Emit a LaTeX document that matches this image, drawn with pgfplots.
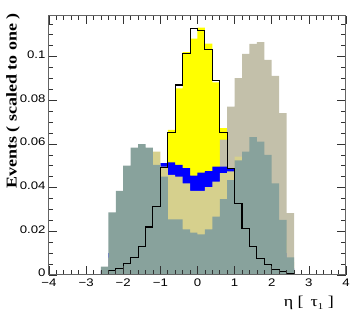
\documentclass[border=0pt]{standalone}
\usepackage{fontspec}
\setmainfont{Liberation Sans}[FakeStretch=1.2]
\newfontfamily\titlefont{Liberation Serif}[FakeStretch=1.2]
\usepackage{pgfplots}
\usepackage{pgfplotstable}
\pgfplotsset{compat=1.18}
\definecolor{cteal}{RGB}{136,162,156}
\definecolor{ckhaki}{RGB}{214,208,141}
\definecolor{ctan}{RGB}{195,192,170}
\definecolor{cyel}{RGB}{255,255,0}
\definecolor{cblue}{RGB}{0,0,255}
\definecolor{cframe}{RGB}{100,100,100}

% bin left edges, last row = right edge of last bin
\pgfplotstableread{
x y
-2.6 0
-2.4 0.0020
-2.2 0.0030
-2.0 0.0050
-1.8 0.0080
-1.6 0.0130
-1.4 0.0220
-1.2 0.0310
-1.0 0.0480
-0.8 0.0664
-0.6 0.0855
-0.4 0.1020
-0.2 0.1082
0.0 0.1133
0.2 0.1060
0.4 0.0882
0.6 0.0672
0.8 0.0480
1.0 0.0330
1.2 0.0210
1.4 0.0130
1.6 0.0075
1.8 0.0048
2.0 0.0027
2.2 0.0016
2.4 0.0007
2.6 0.0007
}\yellowdata

\pgfplotstableread{
x y
-2.6 0
-2.4 0.001
-2.2 0.002
-2.0 0.003
-1.8 0.004
-1.6 0.005
-1.4 0.006
-1.2 0.007
-1.0 0.008
-0.8 0.010
-0.6 0.012
-0.4 0.015
-0.2 0.018
0.0 0.022
0.2 0.027
0.4 0.036
0.6 0.0620
0.8 0.0771
1.0 0.0901
1.2 0.1012
1.4 0.1058
1.6 0.1066
1.8 0.0985
2.0 0.0912
2.2 0.0741
2.4 0.0283
2.6 0.0283
}\tandata

\pgfplotstableread{
x y
-2.6 0.002
-2.4 0.010
-2.2 0.018
-2.0 0.025
-1.8 0.032
-1.6 0.038
-1.4 0.043
-1.2 0.047
-1.0 0.0512
-0.8 0.0516
-0.6 0.0504
-0.4 0.0489
-0.2 0.0455
0.0 0.0469
0.2 0.0476
0.4 0.0496
0.6 0.0496
0.8 0.0488
1.0 0.047
1.2 0.043
1.4 0.038
1.6 0.032
1.8 0.025
2.0 0.018
2.2 0.010
2.4 0.003
2.6 0.003
}\bluedata

\pgfplotstableread{
x y
-2.6 0.002
-2.4 0.008
-2.2 0.015
-2.0 0.025
-1.8 0.035
-1.6 0.045
-1.4 0.053
-1.2 0.0565
-1.0 0.0496
-0.8 0.0458
-0.6 0.0450
-0.4 0.0420
-0.2 0.0385
0.0 0.0385
0.2 0.0402
0.4 0.0427
0.6 0.0466
0.8 0.0475
1.0 0.0542
1.2 0.055
1.4 0.050
1.6 0.045
1.8 0.036
2.0 0.026
2.2 0.016
2.4 0.006
2.6 0.006
}\khakidata

\pgfplotstableread{
x y
-2.6 0.0038
-2.4 0.0287
-2.2 0.0385
-2.0 0.0501
-1.8 0.0583
-1.6 0.0599
-1.4 0.0583
-1.2 0.0504
-1.0 0.0450
-0.8 0.0255
-0.6 0.0255
-0.4 0.0209
-0.2 0.0194
0.0 0.0186
0.2 0.0209
0.4 0.0267
0.6 0.0347
0.8 0.0435
1.0 0.0525
1.2 0.0565
1.4 0.0631
1.6 0.0611
1.8 0.0550
2.0 0.0420
2.2 0.0252
2.4 0.0081
2.6 0.0081
}\tealdata

\pgfplotstableread{
x y
-2.4 0
-2.4 0.0020
-2.2 0.0031
-2.0 0.0053
-1.8 0.0079
-1.6 0.0132
-1.4 0.0220
-1.2 0.0315
-1.0 0.0492
-0.8 0.0652
-0.6 0.0870
-0.4 0.1016
-0.2 0.1130
0.0 0.1118
0.2 0.1031
0.4 0.0890
0.6 0.0652
0.8 0.0487
1.0 0.0326
1.2 0.0212
1.4 0.0129
1.6 0.0075
1.8 0.0048
2.0 0.0027
2.2 0.0016
2.4 0.0007
2.6 0.0007
2.6 0
}\blackdata

\begin{document}
\begin{tikzpicture}
\path[use as bounding box] (0,0) rectangle (357pt,324pt);
\begin{axis}[
  at={(49pt,49pt)}, anchor=south west,
  scale only axis, width=297pt, height=259pt,
  xmin=-4, xmax=4, ymin=0, ymax=0.1186,
  xtick={-4,-3,-2,-1,0,1,2,3,4},
  xticklabels={−4,−3,−2,−1,0,1,2,3,4},
  ytick={0,0.02,0.04,0.06,0.08,0.1},
  yticklabels={0,0.02,0.04,0.06,0.08,0.1},
  minor xtick={-3.8,-3.6,-3.4,-3.2,-2.8,-2.6,-2.4,-2.2,-1.8,-1.6,-1.4,-1.2,-0.8,-0.6,-0.4,-0.2,0.2,0.4,0.6,0.8,1.2,1.4,1.6,1.8,2.2,2.4,2.6,2.8,3.2,3.4,3.6,3.8},
  minor ytick={0.005,0.01,0.015,0.025,0.03,0.035,0.045,0.05,0.055,0.065,0.07,0.075,0.085,0.09,0.095,0.105,0.11,0.115},
  tick align=inside,
  major tick length=8.5pt, minor tick length=4.5pt,
  axis line style={cframe, line width=1pt},
  every tick/.style={black!80, line width=0.7pt},
  tick label style={font=\fontsize{11}{13}\selectfont},
  yticklabel style={yshift=2pt},
  xticklabel style={yshift=-0.5pt},
  axis on top,
  const plot,
]
\addplot[fill=cyel, draw=none] table[x=x,y=y]{\yellowdata} \closedcycle;
\addplot[fill=ctan, draw=none] table[x=x,y=y]{\tandata} \closedcycle;
\addplot[fill=cblue, draw=none] table[x=x,y=y]{\bluedata} \closedcycle;
\addplot[fill=ckhaki, draw=none] table[x=x,y=y]{\khakidata} \closedcycle;
\addplot[fill=cteal, draw=none] table[x=x,y=y]{\tealdata} \closedcycle;
\addplot[draw=black, line width=1.1pt] table[x=x,y=y]{\blackdata};
\end{axis}
\node[rotate=90, anchor=base east, inner sep=0pt, font=\titlefont\bfseries\fontsize{15}{18}\selectfont] at (16.7pt,311pt) {Events ( scaled to one )};
\node[anchor=base east, inner sep=0pt, font=\titlefont\fontsize{15}{18}\selectfont] at (334pt,17.3pt) {η [ \,τ\raisebox{-0.35ex}{\fontsize{9}{10}\selectfont 1} ]};
\end{tikzpicture}
\end{document}
